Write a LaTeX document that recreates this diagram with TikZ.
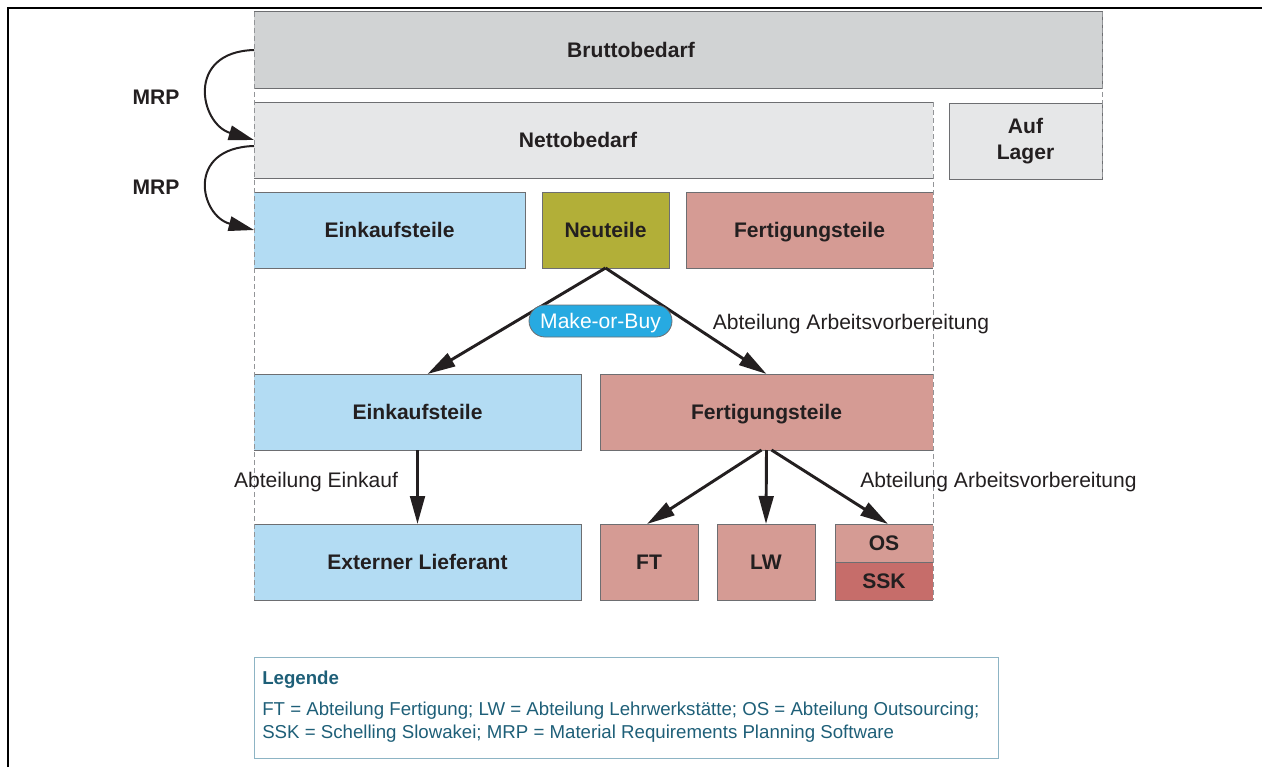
\documentclass[tikz,border=0pt]{standalone}
\usepackage{fontspec}
\setmainfont{Liberation Sans}
\usetikzlibrary{arrows.meta,calc}

\definecolor{bruttofill}{HTML}{D1D3D4}
\definecolor{nettofill}{HTML}{E6E7E8}
\definecolor{bluefill}{HTML}{B3DCF3}
\definecolor{olivefill}{HTML}{B2AF38}
\definecolor{pinkfill}{HTML}{D59B94}
\definecolor{sskfill}{HTML}{C66D6A}
\definecolor{pillfill}{HTML}{27AAE1}
\definecolor{boxline}{HTML}{6D6E71}
\definecolor{guideline}{HTML}{939598}
\definecolor{ink}{HTML}{231F20}
\definecolor{legtext}{HTML}{1E5F78}
\definecolor{legline}{HTML}{8DB4C4}

\begin{document}
\begin{tikzpicture}[x=0.75pt,y=-0.75pt,
  cellbase/.style={inner sep=0pt, outer sep=0pt, draw=none, text=ink,
    font=\bfseries\fontsize{15.8}{19.5}\selectfont},
  cell/.style={cellbase, text height=11.3pt, text depth=0pt},
  edge/.style={draw=boxline, line width=0.75pt},
  guide/.style={draw=guideline, line width=0.75pt, dash pattern=on 3.5pt off 2.5pt},
  lbl/.style={inner sep=0pt, text=ink, font=\fontsize{15.8}{19.5}\selectfont,
    text height=11.3pt, text depth=0pt},
  mrp/.style={lbl, font=\bfseries\fontsize{15.8}{19.5}\selectfont},
  flow/.style={draw=ink, line width=2.2pt, -{Triangle[length=21pt,width=11pt]}},
  loop/.style={draw=ink, line width=1.5pt, -{Triangle[length=19pt,width=11pt]}},
  pill/.style={draw=boxline, line width=0.6pt, fill=pillfill, text=white,
    rounded corners=12pt, inner sep=0pt,
    minimum width=143*0.75pt, minimum height=32*0.75pt,
    font=\fontsize{15.8}{19.5}\selectfont, text height=11.3pt, text depth=0pt},
  legfont/.style={inner sep=0pt, text=legtext, font=\fontsize{14}{17.25}\selectfont}
]
\useasboundingbox (0,0) rectangle (1262,767);

% outer frame (top and left only)
\draw[black, line width=1.9pt] (8,767) -- (8,8) -- (1262,8);

% ---- level 1 and 2: demand ----
\node[cell, fill=bruttofill, minimum width=848*0.75pt, minimum height=76*0.75pt] (brutto) at (678,50) {};
\node[cell] (bruttotext) at (631,50) {Bruttobedarf};
\node[cell, fill=nettofill, minimum width=679*0.75pt, minimum height=76*0.75pt] (netto) at (593.5,140) {};
\node[cell] (nettotext) at (578,140) {Nettobedarf};
\node[cellbase, fill=nettofill, align=center, minimum width=153*0.75pt, minimum height=76*0.75pt] (lager) at (1025.5,141) {Auf\\Lager};

% ---- level 3: part types ----
\node[cell, fill=bluefill, minimum width=271*0.75pt, minimum height=76*0.75pt] (ek1) at (389.5,230) {Einkaufsteile};
\node[cell, fill=olivefill, minimum width=127*0.75pt, minimum height=76*0.75pt] (neu) at (605.5,230) {Neuteile};
\node[cell, fill=pinkfill, minimum width=247*0.75pt, minimum height=76*0.75pt] (ft1) at (809.5,230) {Fertigungsteile};

% ---- level 4: decision result ----
\node[cell, fill=bluefill, minimum width=327*0.75pt, minimum height=76*0.75pt] (ek2) at (417.5,412) {Einkaufsteile};
\node[cell, fill=pinkfill, minimum width=333*0.75pt, minimum height=76*0.75pt] (ft2) at (766.5,412) {Fertigungsteile};

% ---- level 5: suppliers / departments ----
\node[cell, fill=bluefill, minimum width=327*0.75pt, minimum height=76*0.75pt] (ext) at (417.5,562) {Externer Lieferant};
\node[cell, fill=pinkfill, minimum width=98*0.75pt, minimum height=76*0.75pt] (ft) at (649,562) {FT};
\node[cell, fill=pinkfill, minimum width=98*0.75pt, minimum height=76*0.75pt] (lw) at (766,562) {LW};
\node[cell, fill=pinkfill, minimum width=98*0.75pt, minimum height=38*0.75pt] (os) at (884,543) {OS};
\node[cell, fill=sskfill, minimum width=98*0.75pt, minimum height=38*0.75pt] (ssk) at (884,581) {SSK};

% ---- solid box borders (sides on guide lines are left to the dashes) ----
\draw[edge] (brutto.north west) -- (brutto.north east) -- (brutto.south east) -- (brutto.south west);
\draw[edge] (netto.north west) -- (netto.north east) (netto.south west) -- (netto.south east);
\draw[edge] (lager.north west) rectangle (lager.south east);
\draw[edge] (ek1.north west) -- (ek1.north east) -- (ek1.south east) -- (ek1.south west);
\draw[edge] (neu.north west) rectangle (neu.south east);
\draw[edge] (ft1.north east) -- (ft1.north west) -- (ft1.south west) -- (ft1.south east);
\draw[edge] (ek2.north west) -- (ek2.north east) -- (ek2.south east) -- (ek2.south west);
\draw[edge] (ft2.north east) -- (ft2.north west) -- (ft2.south west) -- (ft2.south east);
\draw[edge] (ext.north west) -- (ext.north east) -- (ext.south east) -- (ext.south west);
\draw[edge] (ft.north west) rectangle (ft.south east);
\draw[edge] (lw.north west) rectangle (lw.south east);
\draw[edge] (os.north east) -- (os.north west) -- (ssk.south west) -- (ssk.south east);
\draw[edge] (os.south west) -- (os.south east);

% ---- dashed guide lines ----
\draw[guide] (brutto.north west) -- (ext.south west);
\draw[guide] (netto.north east) -- (ssk.south east);
\draw[guide] (brutto.north east) -- (lager.south east);

% ---- MRP loops ----
\draw[loop] (brutto.west) .. controls (185,52) and (200,124) .. (netto.west);
\draw[loop] ($(netto.west)+(0,6)$) .. controls (185,148) and (200,216) .. (ek1.west);
\node[mrp] (mrp1) at (156,97) {MRP};
\node[mrp] (mrp2) at (156,187) {MRP};

% ---- flows ----
\draw[flow] (neu.south) -- ($(ek2.north)+(10,0)$);
\draw[flow] (neu.south) -- (ft2.north);
\draw[flow] (ek2.south) -- (ext.north);
\draw[flow] ($(ft2.south)+(-5,0)$) -- ($(ft.north)+(-2,0)$);
\draw[flow] (ft2.south) -- (lw.north);
\draw[flow] ($(ft2.south)+(5,0)$) -- ($(os.north)+(4,0)$);

\node[pill] (mob) at (600.5,321) {Make-or-Buy};
\node[lbl] (avlabel1) at (851,322) {Abteilung Arbeitsvorbereitung};
\node[lbl] (eklabel) at (316,480) {Abteilung Einkauf};
\node[lbl] (avlabel2) at (998.5,480) {Abteilung Arbeitsvorbereitung};

% ---- legend ----
\node[draw=legline, line width=0.75pt, minimum width=744*0.75pt, minimum height=101*0.75pt, inner sep=0pt] (legend) at (626,707.5) {};
\node[legfont, anchor=base west, font=\bfseries\fontsize{14}{17.25}\selectfont] (legtitle) at (262,684.5) {Legende};
\node[legfont, anchor=base west] (legline1) at (262,715.5)
  {FT = Abteilung Fertigung; LW = Abteilung Lehrwerkstätte; OS = Abteilung Outsourcing;};
\node[legfont, anchor=base west] (legline2) at (262,738.7)
  {SSK = Schelling Slowakei; MRP = Material Requirements Planning Software};
\end{tikzpicture}
\end{document}
